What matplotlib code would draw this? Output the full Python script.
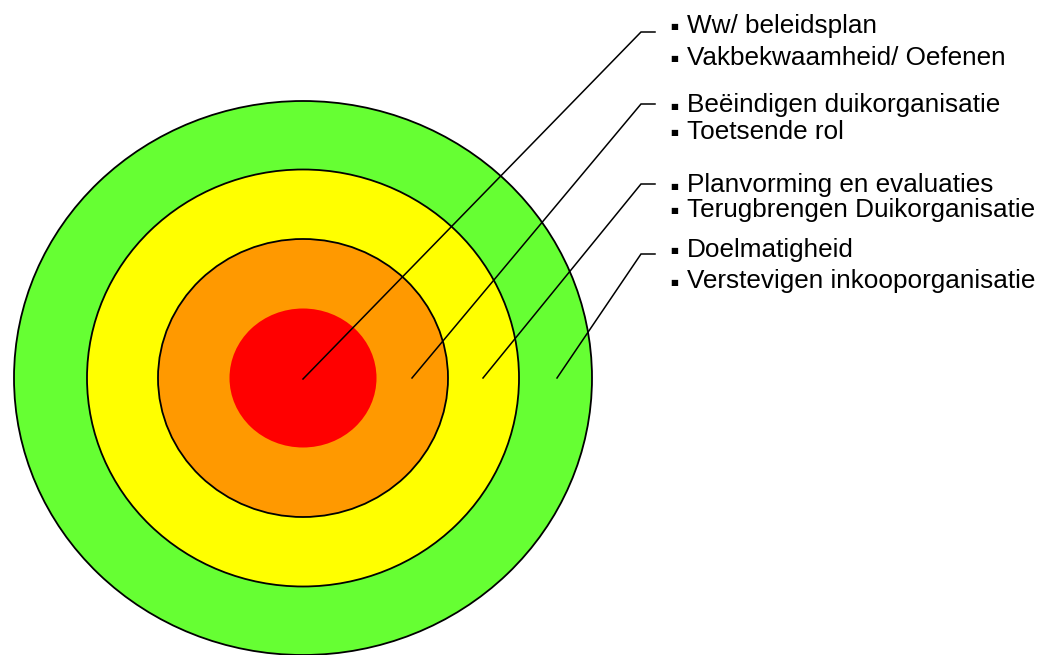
import matplotlib
matplotlib.use("Agg")
import matplotlib.pyplot as plt
from matplotlib.patches import Ellipse

# ---- data ----
ring_colors = ["#66FF33", "#FFFF00", "#FF9900", "#FF0000"]
ring_rx = [289, 216, 145, 73.5]
ring_ry = [277, 208.5, 139, 69.5]
ring_edge = [True, True, True, False]
center = (303, 378)

labels = [
    ["Ww/ beleidsplan", "Vakbekwaamheid/ Oefenen"],
    ["Beëindigen duikorganisatie", "Toetsende rol"],
    ["Planvorming en evaluaties", "Terugbrengen Duikorganisatie"],
    ["Doelmatigheid", "Verstevigen inkooporganisatie"],
]
label_baselines = [[33, 65], [112, 139], [192, 217], [257, 288]]

leader_start_x = [303, 412, 483, 557]
leader_start_y = [379, 378, 378, 378]
leader_bend_x = [641, 641, 641, 641]
leader_bend_y = [32, 104, 184, 254]
leader_end_x = [655, 655, 655, 655]

bullet_x = 674
text_x = 687

# ---- figure ----
W, H = 1058, 655
fig = plt.figure(figsize=(W / 100, H / 100), dpi=100)
ax = fig.add_axes([0, 0, 1, 1])
ax.set_xlim(0, W)
ax.set_ylim(H, 0)
ax.axis("off")

for c, rx, ry, e in zip(ring_colors, ring_rx, ring_ry, ring_edge):
    ax.add_patch(Ellipse(center, 2 * rx, 2 * ry, facecolor=c,
                         edgecolor="black" if e else "none", linewidth=1.3,
                         zorder=1))

for sx, sy, bx, by, ex in zip(leader_start_x, leader_start_y, leader_bend_x,
                              leader_bend_y, leader_end_x):
    ax.plot([sx, bx, ex], [sy, by, by], color="black", linewidth=1.1,
            solid_joinstyle="miter", zorder=3)

for pair, bases in zip(labels, label_baselines):
    for txt, b in zip(pair, bases):
        ax.text(text_x, b, txt, fontsize=18.8, family="Liberation Sans",
                color="black", ha="left", va="baseline", zorder=4)
        ax.text(bullet_x, b - 6, "■", fontsize=6, family="DejaVu Sans",
                color="black", ha="center", va="center", zorder=4)

fig.savefig("out.png", dpi=100, facecolor="white")
